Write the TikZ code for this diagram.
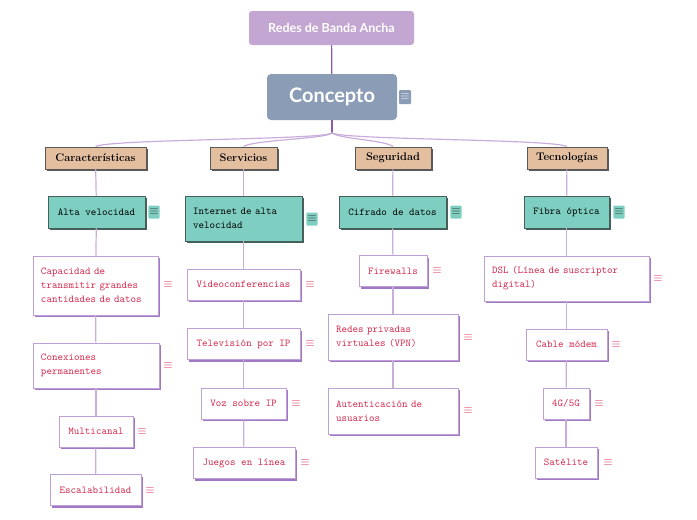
\documentclass[tikz,border=0pt]{standalone}
\usepackage{fontspec}
\newfontfamily\titlefont{Lato}
\usetikzlibrary{shadows}

\definecolor{titlefill}{RGB}{195,166,210}
\definecolor{conceptfill}{RGB}{139,157,182}
\definecolor{catfill}{RGB}{227,191,160}
\definecolor{tealfill}{RGB}{126,207,193}
\definecolor{tealdark}{RGB}{70,95,90}
\definecolor{boxline}{RGB}{190,160,214}
\definecolor{boxshadow}{RGB}{160,120,196}
\definecolor{redtext}{RGB}{213,41,78}
\definecolor{linkline}{RGB}{201,174,219}
\definecolor{toplink}{RGB}{141,90,174}

\begin{document}
\begin{tikzpicture}[x=1pt,y=-1pt,
  titlebox/.style={fill=titlefill,rounded corners=3pt,text=white,minimum width=165pt,minimum height=34pt,font=\titlefont\bfseries\fontsize{12.5}{14}\selectfont},
  conceptbox/.style={fill=conceptfill,rounded corners=4pt,text=white,minimum width=130pt,minimum height=46pt,font=\titlefont\bfseries\fontsize{20}{22}\selectfont},
  catbox/.style={fill=catfill,draw=black!65,line width=0.8pt,minimum height=22pt,inner xsep=2pt,font=\bfseries\fontsize{11}{12}\selectfont,drop shadow={shadow xshift=2pt,shadow yshift=-2pt,fill=black!65,opacity=1}},
  tealbox/.style={fill=tealfill,draw=tealdark,line width=0.8pt,minimum height=32pt,inner xsep=8pt,font=\ttfamily\fontsize{10.5}{14}\selectfont,drop shadow={shadow xshift=2pt,shadow yshift=-2pt,fill=tealdark,opacity=1}},
  wbox/.style={fill=white,draw=boxline,line width=0.8pt,minimum height=31pt,inner xsep=8pt,text=redtext,font=\ttfamily\fontsize{10.5}{14}\selectfont,drop shadow={shadow xshift=2pt,shadow yshift=-2pt,fill=boxshadow,opacity=1}},
  wicon/.style={text=redtext,inner sep=0pt,font=\fontsize{13}{13}\selectfont},
  ticon/.style={fill=tealfill,text=black!80,inner sep=1pt,minimum width=11pt,minimum height=13pt,rounded corners=1pt,font=\fontsize{12}{12}\selectfont},
  cicon/.style={fill=conceptfill,text=white,inner sep=1pt,minimum width=12pt,minimum height=14pt,rounded corners=1pt,font=\fontsize{12}{12}\selectfont},
  link/.style={draw=linkline,line width=1.2pt}]

\useasboundingbox (0,0) rectangle (697,520);

% top
\node[titlebox] (P0) at (331.5,28) {Redes de Banda Ancha};
\node[conceptbox] (P1) at (332,97) {Concepto};
\node[cicon] (I1) at (405,97) {$\equiv$};
\coordinate (H) at (332,133);

% categories
\node[catbox,minimum width=101pt] (C1) at (95.5,158) {Características};
\node[catbox,minimum width=67pt] (C2) at (243.5,158) {Servicios};
\node[catbox,minimum width=76pt] (C3) at (393,158) {Seguridad};
\node[catbox,minimum width=80pt] (C4) at (567,158) {Tecnologías};

% second level
\node[tealbox,minimum width=97pt] (T1) at (96.5,212) {Alta velocidad};
\node[ticon] (J1) at (154,212) {$\equiv$};
\node[tealbox,minimum height=45pt,text width=101pt,align=left] (T2) at (243.5,218.5) {Internet de alta\\velocidad};
\node[ticon] (J2) at (312,219) {$\equiv$};
\node[tealbox,minimum width=107pt] (T3) at (392.5,212) {Cifrado de datos};
\node[ticon] (J3) at (456,212) {$\equiv$};
\node[tealbox,minimum width=85pt] (T4) at (566.5,212) {Fibra óptica};
\node[ticon] (J4) at (619,212) {$\equiv$};

% column 1
\node[wbox,minimum height=59pt,text width=109pt,align=left] (P10) at (95.5,285.5) {Capacidad de\\transmitir grandes\\cantidades de datos};
\node[wicon] (I10) at (168,285) {$\equiv$};
\node[wbox,minimum height=45pt,text width=110pt,align=left] (P11) at (96,365.5) {Conexiones\\permanentes};
\node[wicon] (I11) at (168,366) {$\equiv$};
\node[wbox,minimum width=74pt] (P12) at (96,431.5) {Multicanal};
\node[wicon] (I12) at (142,432) {$\equiv$};
\node[wbox,minimum width=91pt] (P13) at (95.5,490) {Escalabilidad};
\node[wicon] (I13) at (150,491) {$\equiv$};

% column 2
\node[wbox,minimum width=113pt] (P20) at (243.5,284.5) {Videoconferencias};
\node[wicon] (I20) at (310,285) {$\equiv$};
\node[wbox,minimum width=113pt] (P21) at (243.5,344) {Televisión por IP};
\node[wicon] (I21) at (310,344) {$\equiv$};
\node[wbox,minimum width=85pt] (P22) at (243.5,403.5) {Voz sobre IP};
\node[wicon] (I22) at (296,404) {$\equiv$};
\node[wbox,minimum width=102pt] (P23) at (244,463) {Juegos en línea};
\node[wicon] (I23) at (305,463) {$\equiv$};

% column 3
\node[wbox,minimum width=68pt] (P30) at (393,271) {Firewalls};
\node[wicon] (I30) at (437,271) {$\equiv$};
\node[wbox,minimum height=46pt,text width=114pt,align=left] (P31) at (393,337) {Redes privadas\\virtuales (VPN)};
\node[wicon] (I31) at (468,338) {$\equiv$};
\node[wbox,minimum height=46pt,text width=114pt,align=left] (P32) at (393,411) {Autenticación de\\usuarios};
\node[wicon] (I32) at (468,411) {$\equiv$};

% column 4
\node[wbox,minimum height=45pt,text width=149pt,align=left] (P40) at (566.5,278.5) {DSL (Línea de suscriptor\\digital)};
\node[wicon] (I40) at (658,279) {$\equiv$};
\node[wbox,minimum width=81pt] (P41) at (566.5,344.5) {Cable módem};
\node[wicon] (I41) at (616,345) {$\equiv$};
\node[wbox,minimum width=46pt,inner xsep=2pt] (P42) at (566,403.5) {4G/5G};
\node[wicon] (I42) at (599,404) {$\equiv$};
\node[wbox,minimum width=62pt] (P43) at (566,462.5) {Satélite};
\node[wicon] (I43) at (608,463) {$\equiv$};

% links
\draw[draw=toplink,line width=1.2pt] (P0) -- (P1);
\draw[draw=toplink,line width=1.2pt] (P1) -- (H);
\draw[link] (H) .. controls (322,140) and (108,139) .. (C1.north);
\draw[link] (H) .. controls (325,139) and (252,140) .. (C2.north);
\draw[link] (H) .. controls (340,139) and (385,140) .. (C3.north);
\draw[link] (H) .. controls (345,140) and (555,139) .. (C4.north);
\path[link]
(C1) edge (T1) (T1) edge (P10) (P10) edge (P11) (P11) edge (P12) (P12) edge (P13)
(C2) edge (T2) (T2) edge (P20) (P20) edge (P21) (P21) edge (P22) (P22) edge (P23)
(C3) edge (T3) (T3) edge (P30) (P30) edge (P31) (P31) edge (P32)
(C4) edge (T4) (T4) edge (P40) (P40) edge (P41) (P41) edge (P42) (P42) edge (P43);
\end{tikzpicture}
\end{document}
